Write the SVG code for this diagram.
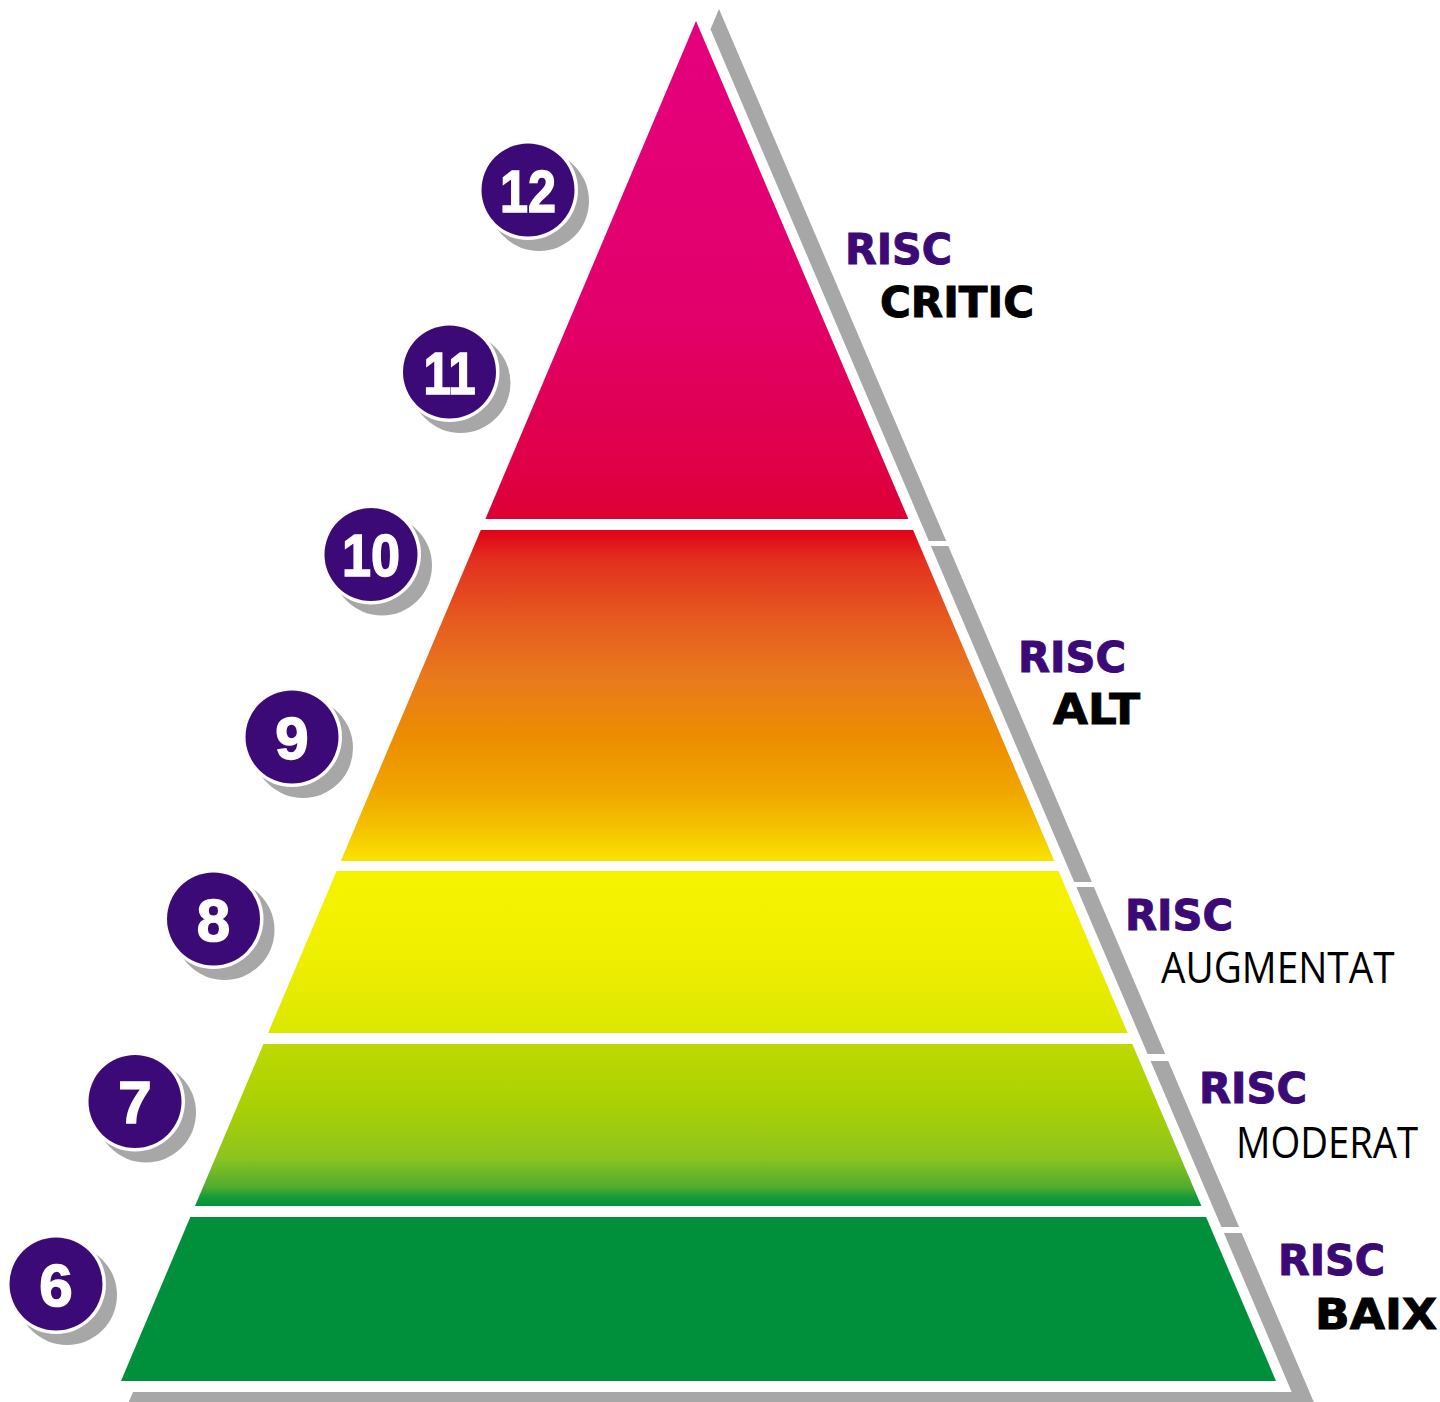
<svg xmlns="http://www.w3.org/2000/svg" width="1440" height="1402" viewBox="0 0 1440 1402">
<style>
.shadow{fill:#a7a7a7}
.disc-shadow{fill:#a7a7a7}
.disc-ring{fill:#ffffff}
.disc{fill:#3c0a76}
.num{font-family:"Liberation Sans",Arial,sans-serif;font-weight:700;font-size:60px;fill:#ffffff;stroke:#ffffff;stroke-width:1.6px;text-anchor:middle}
.risc{font-family:"DejaVu Sans","Liberation Sans",sans-serif;font-weight:700;font-size:43px;fill:#3c0a76;stroke:#3c0a76;stroke-width:1px}
.lvl-bold{font-family:"DejaVu Sans","Liberation Sans",sans-serif;font-weight:700;font-size:43px;fill:#000000;stroke:#000000;stroke-width:1px}
.lvl-thin{font-family:"Open Sans","Noto Sans",sans-serif;font-weight:400;font-size:44px;fill:#000000}
</style>
<defs>
<linearGradient id="g1" x1="0" y1="0" x2="0" y2="1">
<stop offset="0" stop-color="#e5007e"/>
<stop offset="0.6" stop-color="#e2006a"/>
<stop offset="0.9" stop-color="#df0046"/>
<stop offset="1" stop-color="#dd0034"/>
</linearGradient>
<linearGradient id="g2" x1="0" y1="0" x2="0" y2="1">
<stop offset="0" stop-color="#e2001a"/>
<stop offset="0.09" stop-color="#e2301f"/>
<stop offset="0.27" stop-color="#e65a1f"/>
<stop offset="0.45" stop-color="#e97a1c"/>
<stop offset="0.63" stop-color="#ec8e00"/>
<stop offset="0.79" stop-color="#f0a600"/>
<stop offset="0.91" stop-color="#f5c500"/>
<stop offset="1" stop-color="#f9e400"/>
</linearGradient>
<linearGradient id="g3" x1="0" y1="0" x2="0" y2="1">
<stop offset="0" stop-color="#f6f300"/>
<stop offset="0.5" stop-color="#f0ef00"/>
<stop offset="1" stop-color="#dbe700"/>
</linearGradient>
<linearGradient id="g4" x1="0" y1="0" x2="0" y2="1">
<stop offset="0" stop-color="#bdd900"/>
<stop offset="0.4" stop-color="#a9d005"/>
<stop offset="0.7" stop-color="#8cc41e"/>
<stop offset="0.88" stop-color="#52ad2f"/>
<stop offset="0.95" stop-color="#14993a"/>
<stop offset="1" stop-color="#00943a"/>
</linearGradient>
</defs>
<rect width="1440" height="1402" fill="#ffffff"/>

<g id="shadows">
<polygon class="shadow" points="719,9 946.2,541 928.8,541 710.5,29.2"/>
<polygon class="shadow" points="930.9,546 948.3,546 1091.8,882 1074.2,882"/>
<polygon class="shadow" points="1076.3,887 1093.9,887 1165.2,1054 1147.6,1054"/>
<polygon class="shadow" points="1150.6,1061 1168.2,1061 1239.1,1227 1221.4,1227"/>
<polygon class="shadow" points="1223.9,1233 1241.6,1233 1317.2,1410 125.4,1410 133,1392 1291.7,1392"/>
</g>

<g id="connectors"/>

<g id="band-critic">
<polygon fill="url(#g1)" points="696,21 908.4,519 485.4,519"/>
</g>
<g id="band-alt">
<polygon fill="url(#g2)" points="480.8,530 913.1,530 1054.3,861 340.8,861"/>
</g>
<g id="band-augmentat">
<polygon fill="url(#g3)" points="336.6,871 1058.5,871 1127.6,1033 268.1,1033"/>
</g>
<g id="band-moderat">
<polygon fill="url(#g4)" points="263.5,1044 1132.3,1044 1201.4,1206 195,1206"/>
</g>
<g id="band-baix">
<polygon fill="#00903b" points="190.3,1217 1206.1,1217 1276,1381 121,1381"/>
</g>

<g id="num-12">
<circle class="disc-shadow" cx="539" cy="201" r="50"/>
<circle class="disc-ring" cx="528" cy="190" r="50"/>
<circle class="disc" cx="528" cy="190" r="46.5"/>
<text class="num" x="528" y="211.5" textLength="56" lengthAdjust="spacingAndGlyphs">12</text>
</g>
<g id="num-11">
<circle class="disc-shadow" cx="460.5" cy="383" r="50"/>
<circle class="disc-ring" cx="449.5" cy="372" r="50"/>
<circle class="disc" cx="449.5" cy="372" r="46.5"/>
<text class="num" x="449.5" y="393.5" textLength="52" lengthAdjust="spacingAndGlyphs">11</text>
</g>
<g id="num-10">
<circle class="disc-shadow" cx="382" cy="565.5" r="50"/>
<circle class="disc-ring" cx="371" cy="554.5" r="50"/>
<circle class="disc" cx="371" cy="554.5" r="46.5"/>
<text class="num" x="371" y="576" textLength="58" lengthAdjust="spacingAndGlyphs">10</text>
</g>
<g id="num-9">
<circle class="disc-shadow" cx="303" cy="748" r="50"/>
<circle class="disc-ring" cx="292" cy="737" r="50"/>
<circle class="disc" cx="292" cy="737" r="46.5"/>
<text class="num" x="292" y="758.5">9</text>
</g>
<g id="num-8">
<circle class="disc-shadow" cx="224.5" cy="930" r="50"/>
<circle class="disc-ring" cx="213.5" cy="919" r="50"/>
<circle class="disc" cx="213.5" cy="919" r="46.5"/>
<text class="num" x="213.5" y="940.5">8</text>
</g>
<g id="num-7">
<circle class="disc-shadow" cx="146" cy="1112.5" r="50"/>
<circle class="disc-ring" cx="135" cy="1101.5" r="50"/>
<circle class="disc" cx="135" cy="1101.5" r="46.5"/>
<text class="num" x="135" y="1123">7</text>
</g>
<g id="num-6">
<circle class="disc-shadow" cx="67" cy="1295" r="50"/>
<circle class="disc-ring" cx="56" cy="1284" r="50"/>
<circle class="disc" cx="56" cy="1284" r="46.5"/>
<text class="num" x="56" y="1305.5">6</text>
</g>

<g id="label-critic">
<text class="risc" x="845" y="264" textLength="107" lengthAdjust="spacingAndGlyphs">RISC</text>
<text class="lvl-bold" x="880" y="317" textLength="154" lengthAdjust="spacingAndGlyphs">CRITIC</text>
</g>
<g id="label-alt">
<text class="risc" x="1018" y="672" textLength="108" lengthAdjust="spacingAndGlyphs">RISC</text>
<text class="lvl-bold" x="1053" y="724" textLength="87" lengthAdjust="spacingAndGlyphs">ALT</text>
</g>
<g id="label-augmentat">
<text class="risc" x="1125" y="930" textLength="108" lengthAdjust="spacingAndGlyphs">RISC</text>
<text class="lvl-thin" transform="translate(1161,983) scale(0.88,1)" x="0" y="0">AUGMENTAT</text>
</g>
<g id="label-moderat">
<text class="risc" x="1199" y="1103" textLength="108" lengthAdjust="spacingAndGlyphs">RISC</text>
<text class="lvl-thin" transform="translate(1236,1158) scale(0.87,1)" x="0" y="0">MODERAT</text>
</g>
<g id="label-baix">
<text class="risc" x="1278" y="1275" textLength="107" lengthAdjust="spacingAndGlyphs">RISC</text>
<text class="lvl-bold" x="1315" y="1329" textLength="122" lengthAdjust="spacingAndGlyphs">BAIX</text>
</g>
</svg>
